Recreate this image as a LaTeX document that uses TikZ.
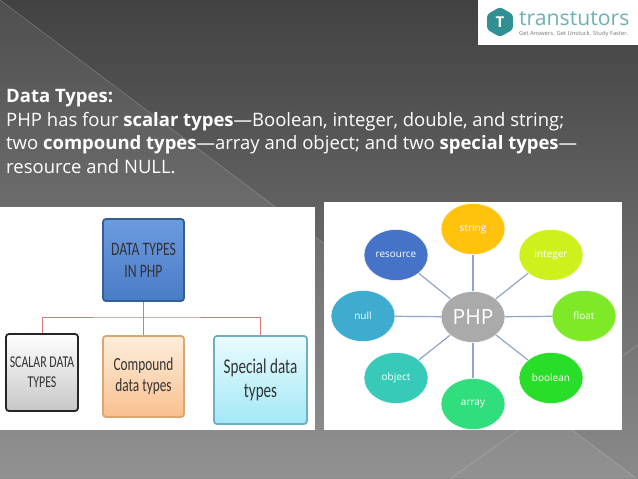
\documentclass[tikz,border=0pt]{standalone}
\usepackage{fontspec}
\setmainfont{Open Sans}
\newfontfamily\narrowfont[FakeStretch=0.72]{Carlito}
\usetikzlibrary{shapes.geometric}
\definecolor{slidetop}{HTML}{424242}
\definecolor{slidebot}{HTML}{8A8A8A}
\definecolor{edgeblue}{HTML}{8FA6CC}
\definecolor{edgered}{HTML}{D9777A}
\definecolor{logoteal}{HTML}{2F8F93}
\definecolor{bluehi}{HTML}{6C9BE0}
\definecolor{bluelo}{HTML}{4A7BC6}
\definecolor{blueline}{HTML}{33608F}
\definecolor{peachhi}{HTML}{FDEEDC}
\definecolor{peachlo}{HTML}{FAC08E}
\definecolor{peachline}{HTML}{DDA66E}
\definecolor{icehi}{HTML}{EAFBFE}
\definecolor{icelo}{HTML}{A2E8F6}
\definecolor{iceline}{HTML}{6DAFC4}
\tikzset{
    slideline/.style={draw=white,opacity=0.22,line width=0.6pt},
    bubble/.style={ellipse,draw=white,opacity=0.95,text opacity=1,line width=0.5pt,minimum width=64pt,minimum height=51pt,inner sep=0pt,text=white,font=\fontsize{10}{12}\selectfont},
    spoke/.style={draw=edgeblue,line width=1.2pt},
    typebox/.style={rectangle,rounded corners=3pt,line width=1.8pt,align=center,text=black!80,inner sep=0pt},
    tree/.style={draw=edgered,line width=0.9pt}
}
\begin{document}
\begin{tikzpicture}[x=1pt,y=-1pt]
    \useasboundingbox (0,0) rectangle (638,479);
    % slide background
    \shade[top color=slidetop,bottom color=slidebot] (0,0) rectangle (638,479);
    \fill[white,opacity=0.07] (0,0) -- (636,478) -- (0,478) -- cycle;
    \draw[slideline] (0,0) -- (636,478);
    \draw[slideline] (450,479) -- (638,345);

    % logo
    \fill[white] (478,0) rectangle (638,45);
    \node[regular polygon,regular polygon sides=6,shape border rotate=30,rounded corners=3pt,fill=logoteal,minimum size=30pt,inner sep=0pt] (logohex) at (500,22) {};
    \node[text=white,font=\bfseries\fontsize{15}{15}\selectfont] (logot) at (logohex) {T};
    \node[anchor=west,text=logoteal!70,inner sep=0pt,font=\fontsize{21.2}{22}\selectfont] (logoname) at (519,18.5) {transtutors};
    \node[anchor=west,text=black!55,inner sep=0pt,font=\fontsize{5.8}{6}\selectfont] (logotag) at (519,33.5) {Get Answers. Get Unstuck. Study Faster.};

    % text block
    \node[anchor=north west,align=left,text=white,inner sep=0pt,font=\fontsize{18.5}{23.6}\selectfont] (intro) at (6,89) {\textbf{Data Types:}\\
        PHP has four \textbf{scalar types}---Boolean, integer, double, and string;\\
        two \textbf{compound types}---array and object; and two \textbf{special types}---\\
        resource and NULL.};

    % left picture
    \fill[white] (0,207) rectangle (315,430);
    \node[typebox,draw=blueline,top color=bluehi,bottom color=bluelo,minimum width=81pt,minimum height=82pt,font=\narrowfont\fontsize{19}{22}\selectfont] (types) at (143.5,260) {DATA TYPES\\IN PHP};
    \node[typebox,draw=black!85,top color=white,bottom color=black!22,minimum width=72pt,minimum height=77pt,font=\narrowfont\fontsize{16.5}{20}\selectfont] (scalar) at (42,372.5) {SCALAR DATA\\TYPES};
    \node[typebox,draw=peachline,top color=peachhi,bottom color=peachlo,minimum width=81pt,minimum height=81pt,font=\narrowfont\fontsize{18.5}{21}\selectfont] (compound) at (143.5,376.5) {Compound\\data types};
    \node[typebox,draw=iceline,top color=icehi,bottom color=icelo,minimum width=93pt,minimum height=88pt,font=\narrowfont\fontsize{21}{24}\selectfont] (special) at (260.5,380) {Special data\\types};
    \coordinate (split) at (142,317);
    \draw[tree] (types.south) -- (compound.north);
    \draw[tree] (scalar.north) |- (split) -| (special.north);

    % right picture
    \fill[white] (324,202) rectangle (622,430);
    \node[bubble,fill=black!35,font=\fontsize{21}{21}\selectfont] (php) at (473,317) {PHP};
    \node[bubble,fill={rgb,255:red,255;green,192;blue,0}] (string) at (473,229) {string};
    \node[bubble,fill={rgb,255:red,204;green,240;blue,17}] (integer) at (551,255) {integer};
    \node[bubble,fill={rgb,255:red,119;green,232;blue,28}] (float) at (584,316) {float};
    \node[bubble,fill={rgb,255:red,30;green,221;blue,30}] (boolean) at (551,378) {boolean};
    \node[bubble,fill={rgb,255:red,37;green,221;blue,119}] (array) at (473,404) {array};
    \node[bubble,fill={rgb,255:red,46;green,200;blue,181}] (object) at (396,378) {object};
    \node[bubble,fill={rgb,255:red,51;green,168;blue,204}] (null) at (363,316) {null};
    \node[bubble,fill={rgb,255:red,59;green,108;blue,196}] (resource) at (396,255) {resource};
    \foreach \leaf in {string,integer,float,boolean,array,object,null,resource}
        \draw[spoke] (php) -- (\leaf);
\end{tikzpicture}
\end{document}
